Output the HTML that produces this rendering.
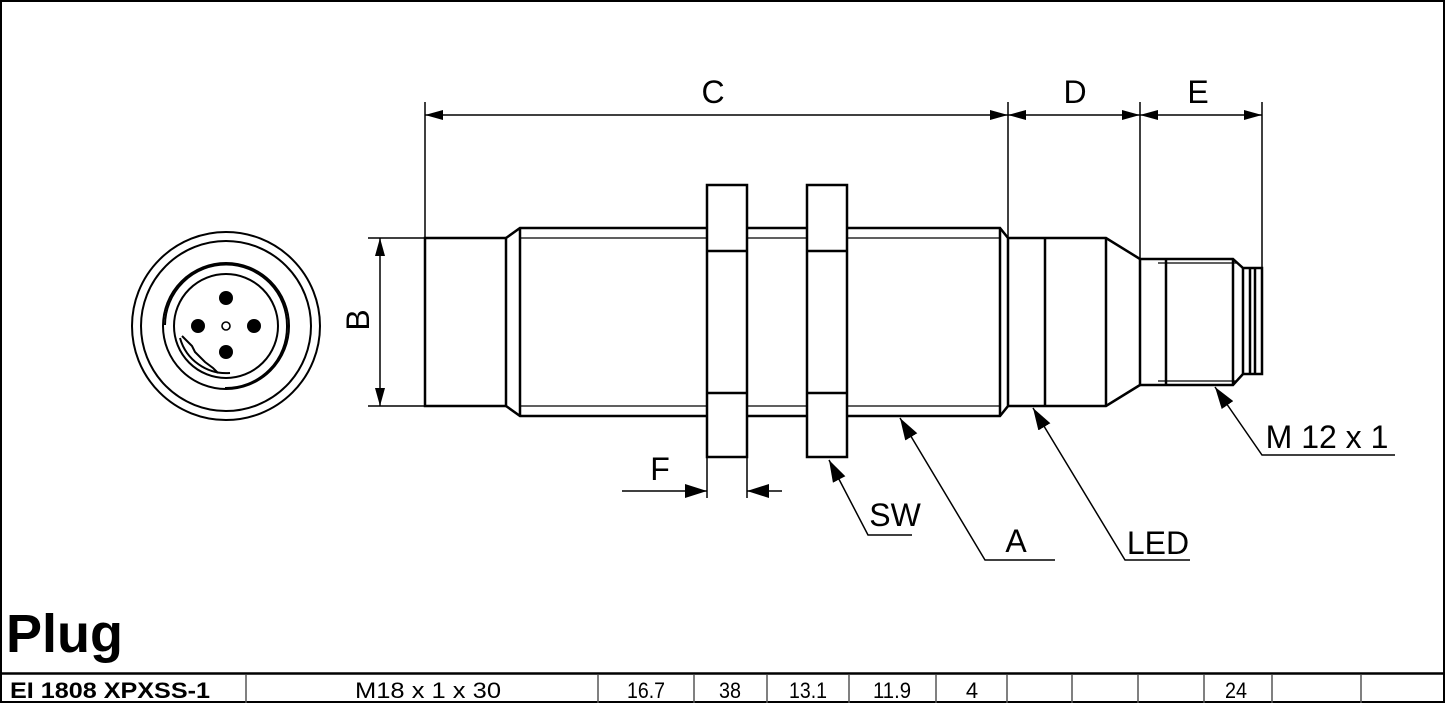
<!DOCTYPE html>
<html><head><meta charset="utf-8"><style>
html,body{margin:0;padding:0;background:#fff}
svg{display:block}
text{font-family:"Liberation Sans",Arial,sans-serif;fill:#000}
</style></head><body>
<svg width="1445" height="703" viewBox="0 0 1445 703" xmlns="http://www.w3.org/2000/svg">
<defs>
<marker id="ah" viewBox="0 0 10 10" refX="10" refY="5" markerWidth="18" markerHeight="10" markerUnits="userSpaceOnUse" orient="auto" preserveAspectRatio="none"><path d="M0,0 L10,5 L0,10 z" fill="#000"/></marker>
<marker id="al" viewBox="0 0 10 10" refX="10" refY="5" markerWidth="22" markerHeight="14" markerUnits="userSpaceOnUse" orient="auto" preserveAspectRatio="none"><path d="M0,0 L10,5 L0,10 z" fill="#000"/></marker>
</defs>
<rect x="1" y="1" width="1443" height="701" fill="none" stroke="#000" stroke-width="2"/>

<g fill="none" stroke="#000" stroke-width="2">
<circle cx="226" cy="326" r="94"/>
<circle cx="226" cy="326" r="85"/>
<circle cx="226" cy="326" r="63"/>
<path d="M165,325 A61,61 0 0 1 287,326 A61,61 0 0 1 225,388"/>
<circle cx="226" cy="326" r="52"/>
<path d="M182,336 L192,346 L195,352 L205,362 L213,368 L218,373"/>
<path d="M180,338 A48,48 0 0 0 230,373"/>
</g>
<g fill="#000"><circle cx="226" cy="298" r="7"/><circle cx="198" cy="326" r="7"/><circle cx="254" cy="326" r="7"/><circle cx="226" cy="352" r="7"/></g>
<circle cx="226" cy="326" r="4" fill="none" stroke="#000" stroke-width="1.6"/>

<g fill="none" stroke="#000" stroke-width="2.5">
<rect x="425" y="238" width="81" height="168"/>
<path d="M506,238 L520,228 L1000,228 L1008,238 L1008,406 L1000,416 L520,416 L506,406"/>
<line x1="520" y1="228" x2="520" y2="416"/>
<line x1="1000" y1="228" x2="1000" y2="416"/>
<path d="M1008,238 L1106,238 L1140,259 L1140,385 L1106,406 L1008,406"/>
<line x1="1045" y1="238" x2="1045" y2="406"/>
<line x1="1106" y1="238" x2="1106" y2="406"/>
<path d="M1140,259 L1233,259 L1243,268 L1262,268 L1262,374 L1243,374 L1233,385 L1140,385"/>
<line x1="1166" y1="259" x2="1166" y2="385"/>
<line x1="1233" y1="259" x2="1233" y2="385"/>
<line x1="1243" y1="268" x2="1243" y2="374"/>
<line x1="1250" y1="268" x2="1250" y2="374"/>
<line x1="1255" y1="268" x2="1255" y2="374"/>
</g>
<g stroke="#000" stroke-width="1.2" fill="none">
<line x1="520" y1="238" x2="1000" y2="238"/>
<line x1="520" y1="406" x2="1000" y2="406"/>
<line x1="1158" y1="263" x2="1237" y2="263"/>
<line x1="1158" y1="381" x2="1237" y2="381"/>
</g>
<g fill="#fff" stroke="#000" stroke-width="2.5">
<rect x="707" y="185" width="40" height="272"/>
<rect x="807" y="185" width="40" height="272"/>
</g>
<g stroke="#000" stroke-width="2.5">
<line x1="707" y1="251" x2="747" y2="251"/><line x1="707" y1="393" x2="747" y2="393"/>
<line x1="807" y1="251" x2="847" y2="251"/><line x1="807" y1="393" x2="847" y2="393"/>
</g>

<g stroke="#000" stroke-width="1.5" fill="none">
<line x1="425" y1="102" x2="425" y2="238"/>
<line x1="1008" y1="102" x2="1008" y2="238"/>
<line x1="1140" y1="102" x2="1140" y2="259"/>
<line x1="1262" y1="102" x2="1262" y2="268"/>
<line x1="445" y1="115" x2="425" y2="115" marker-end="url(#ah)"/>
<line x1="445" y1="115" x2="1008" y2="115" marker-end="url(#ah)"/>
<line x1="1028" y1="115" x2="1008" y2="115" marker-end="url(#ah)"/>
<line x1="1028" y1="115" x2="1140" y2="115" marker-end="url(#ah)"/>
<line x1="1160" y1="115" x2="1140" y2="115" marker-end="url(#ah)"/>
<line x1="1160" y1="115" x2="1262" y2="115" marker-end="url(#ah)"/>
<line x1="368" y1="238" x2="425" y2="238"/>
<line x1="368" y1="406" x2="425" y2="406"/>
<line x1="380" y1="258" x2="380" y2="238" marker-end="url(#ah)"/>
<line x1="380" y1="258" x2="380" y2="406" marker-end="url(#ah)"/>
<line x1="707" y1="457" x2="707" y2="498"/>
<line x1="747" y1="457" x2="747" y2="498"/>
<line x1="622" y1="491" x2="707" y2="491" marker-end="url(#al)"/>
<line x1="782" y1="491" x2="747" y2="491" marker-end="url(#al)"/>
<path d="M912,535 L868,535 L829,460" marker-end="url(#al)"/>
<path d="M1055,560 L985,560 L900,418" marker-end="url(#al)"/>
<path d="M1190,560 L1125,560 L1033,408" marker-end="url(#al)"/>
<path d="M1395,455 L1262,455 L1215,387" marker-end="url(#al)"/>
</g>

<g font-size="32">
<text x="713" y="103" text-anchor="middle">C</text>
<text x="1075" y="103" text-anchor="middle">D</text>
<text x="1198" y="103" text-anchor="middle">E</text>
<text x="660" y="480" text-anchor="middle">F</text>
<text x="895" y="526" text-anchor="middle">SW</text>
<text x="1016" y="552" text-anchor="middle">A</text>
<text x="1158" y="554" text-anchor="middle">LED</text>
<text x="1327" y="448" text-anchor="middle">M 12 x 1</text>
<text transform="translate(369,320) rotate(-90)" text-anchor="middle">B</text>
</g>

<text x="6" y="652" font-size="54" font-weight="bold">Plug</text>

<line x1="0" y1="673.5" x2="1445" y2="673.5" stroke="#000" stroke-width="2.5"/>
<g stroke="#555" stroke-width="1.5">
<line x1="246" y1="675" x2="246" y2="703"/><line x1="598" y1="675" x2="598" y2="703"/>
<line x1="694" y1="675" x2="694" y2="703"/><line x1="767" y1="675" x2="767" y2="703"/>
<line x1="849" y1="675" x2="849" y2="703"/><line x1="936" y1="675" x2="936" y2="703"/>
<line x1="1007" y1="675" x2="1007" y2="703"/><line x1="1072" y1="675" x2="1072" y2="703"/>
<line x1="1138" y1="675" x2="1138" y2="703"/><line x1="1204" y1="675" x2="1204" y2="703"/>
<line x1="1272" y1="675" x2="1272" y2="703"/><line x1="1361" y1="675" x2="1361" y2="703"/>
</g>
<g font-size="22">
<text x="10" y="698" font-weight="bold" textLength="200" lengthAdjust="spacingAndGlyphs">EI 1808 XPXSS-1</text>
<text x="428" y="698" text-anchor="middle" textLength="146" lengthAdjust="spacingAndGlyphs">M18 x 1 x 30</text>
<text x="646" y="698" text-anchor="middle" textLength="38" lengthAdjust="spacingAndGlyphs">16.7</text>
<text x="730" y="698" text-anchor="middle" textLength="22" lengthAdjust="spacingAndGlyphs">38</text>
<text x="808" y="698" text-anchor="middle" textLength="38" lengthAdjust="spacingAndGlyphs">13.1</text>
<text x="892" y="698" text-anchor="middle" textLength="38" lengthAdjust="spacingAndGlyphs">11.9</text>
<text x="972" y="698" text-anchor="middle">4</text>
<text x="1236" y="698" text-anchor="middle" textLength="22" lengthAdjust="spacingAndGlyphs">24</text>
</g>
</svg>
</body></html>
